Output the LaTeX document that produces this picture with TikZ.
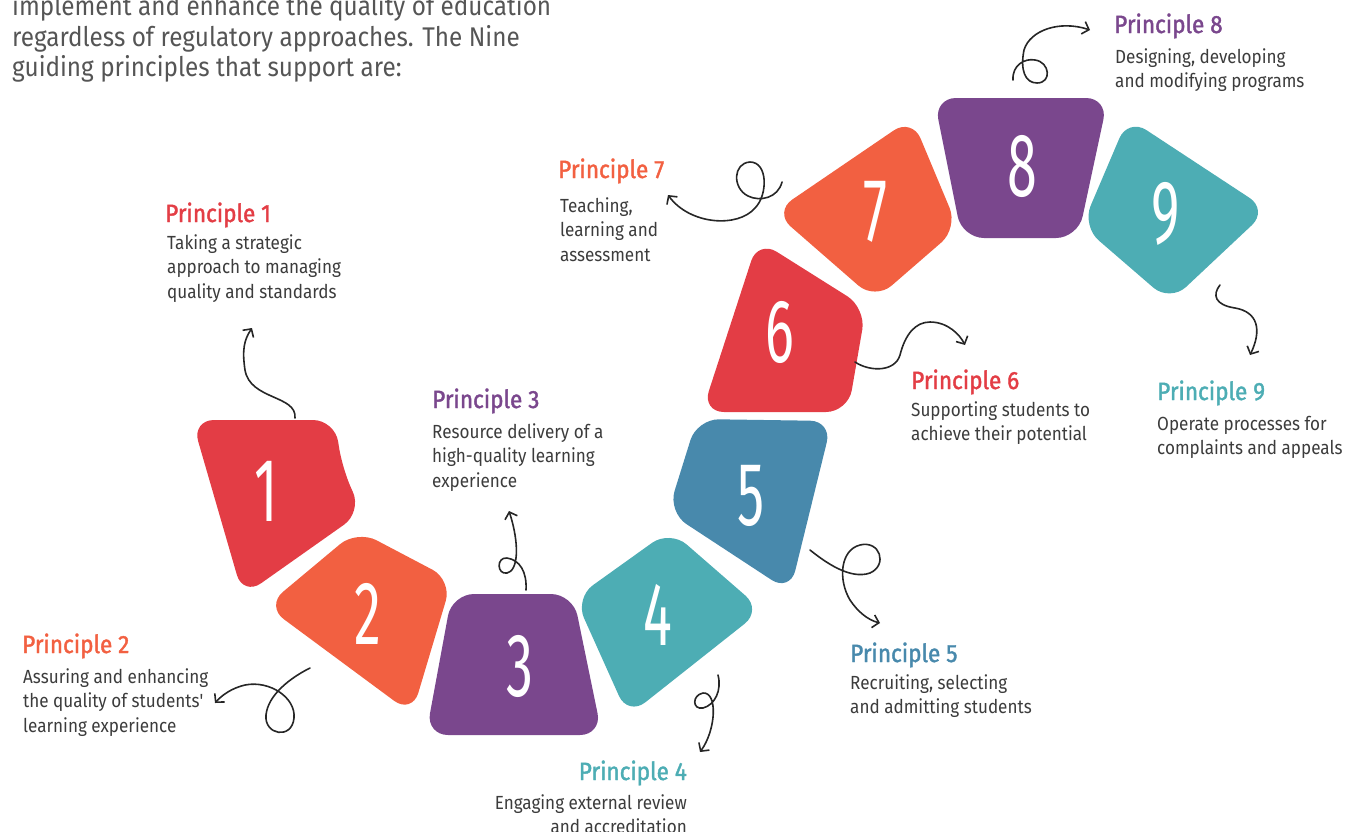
\documentclass[tikz,border=0pt]{standalone}
\usepackage{fontspec}
\setmainfont{Fira Sans}[FakeStretch=0.9]
\newfontfamily\ttlfont{Fira Sans}[FakeStretch=0.9, FakeBold=1.6]
\newfontfamily\numfont{Fira Sans}[FakeStretch=0.6]
\usetikzlibrary{arrows.meta}
\definecolor{cRed}{HTML}{E33D45}
\definecolor{cOrange}{HTML}{F26041}
\definecolor{cPurple}{HTML}{7A478D}
\definecolor{cTeal}{HTML}{4DADB4}
\definecolor{cBlue}{HTML}{4889AC}
\definecolor{cText}{HTML}{3C3C3C}
\definecolor{cIntro}{HTML}{555555}
\begin{document}
\begin{tikzpicture}[x=1pt,y=-1pt,
  blob/.style={rounded corners=22pt},
  num/.style={text=white, font=\numfont\fontsize{90}{90}\selectfont, inner sep=0},
  ttl/.style={anchor=base west, inner sep=0, font=\ttlfont\fontsize{25}{25}\selectfont},
  body/.style={anchor=north west, inner sep=0, align=left, text=cText, font=\fontsize{19}{24.5}\selectfont},
  intro/.style={anchor=base west, inner sep=0, text=cIntro, font=\fontsize{27}{30}\selectfont},
  squig/.style={draw=black!85, line width=1.6pt, line cap=round, -{Straight Barb[length=6pt,width=13pt]}}]
\useasboundingbox (0,0) rectangle (1348,831);
\clip (0,0) rectangle (1348,831);

% intro text
\node[intro] (i1) at (12,15) {implement and enhance the quality of education};
\node[intro] (i2) at (12,46) {regardless of regulatory approaches. The Nine};
\node[intro] (i3) at (12,76) {guiding principles that support are:};

% shapes
\fill[cRed, blob] (192,420) -- (335,420) -- (342,468) -- (362,512) -- (243,596) -- cycle;
\fill[cOrange, blob] (357,530) -- (452,580) -- (412,714) -- (266,606) -- cycle;
\fill[cPurple, blob] (452,594) -- (573,594) -- (602,735) -- (426,735) -- cycle;
\fill[cTeal, blob] (670,530) -- (762,610) -- (628,716) -- (575,598) -- cycle;
\fill[cBlue, blob] (697,419) -- (832,421) -- (790,592) -- (668,512) -- cycle;
\fill[cRed, blob] (758,240) -- (866,308) -- (848,412) -- (702,412) -- cycle;
\fill[cOrange, blob] (912,118) -- (958,228) -- (875,300) -- (774,212) -- cycle;
\fill[cPurple, blob] (934,98) -- (1108,98) -- (1078,238) -- (962,238) -- cycle;
\fill[cTeal, blob] (1128,118) -- (1268,210) -- (1170,302) -- (1082,226) -- cycle;

% numbers
\node[num] (n1) at (266,491) {1};
\node[num] (n2) at (368,614) {2};
\node[num] (n3) at (520,666) {3};
\node[num] (n4) at (658,615) {4};
\node[num] (n5) at (751,496) {5};
\node[num] (n6) at (780,332) {6};
\node[num] (n7) at (875,212) {7};
\node[num] (n8) at (1022,166) {8};
\node[num] (n9) at (1166,214) {9};

% labels
\node[ttl, text=cRed] (t1) at (165,222) {Principle 1};
\node[body] (b1) at (167,234) {Taking a strategic\\approach to managing\\quality and standards};
\node[ttl, text=cOrange] (t2) at (22,653) {Principle 2};
\node[body] (b2) at (23,668) {Assuring and enhancing\\the quality of students\textquotesingle\\learning experience};
\node[ttl, text=cPurple] (t3) at (432,408) {Principle 3};
\node[body] (b3) at (432,423) {Resource delivery of a\\high-quality learning\\experience};
\node[ttl, text=cTeal, anchor=base east] (t4) at (687,780) {Principle 4};
\node[body, anchor=north east, align=right] (b4) at (687,794) {Engaging external review\\and accreditation};
\node[ttl, text=cBlue] (t5) at (850,662) {Principle 5};
\node[body] (b5) at (850,674) {Recruiting, selecting\\and admitting students};
\node[ttl, text=cRed] (t6) at (911,389) {Principle 6};
\node[body] (b6) at (911,401) {Supporting students to\\achieve their potential};
\node[ttl, text=cOrange] (t7) at (558,178) {Principle 7};
\node[body] (b7) at (560,197) {Teaching,\\learning and\\assessment};
\node[ttl, text=cPurple] (t8) at (1114,33) {Principle 8};
\node[body] (b8) at (1115,48) {Designing, developing\\and modifying programs};
\node[ttl, text=cTeal] (t9) at (1157,400) {Principle 9};
\node[body] (b9) at (1157,416) {Operate processes for\\complaints and appeals};

% squiggle arrows
\coordinate (a1s) at (295,418); \coordinate (a1e) at (252,328);
\coordinate (a2s) at (310,668); \coordinate (a2e) at (215,703);
\coordinate (a3s) at (526,590); \coordinate (a3e) at (509,511);
\coordinate (a4s) at (718,675); \coordinate (a4e) at (700,752);
\coordinate (a5s) at (810,550); \coordinate (a5e) at (880,623);
\coordinate (a6s) at (855,362); \coordinate (a6e) at (965,345);
\coordinate (a7s) at (782,182); \coordinate (a7e) at (668,195);
\coordinate (a8s) at (1013,80); \coordinate (a8e) at (1090,30);
\coordinate (a9s) at (1220,285); \coordinate (a9e) at (1250,355);

\draw[squig] (a1s) .. controls (297,395) and (250,400) .. (245,370) .. controls (242,350) and (244,340) .. (a1e);
\draw[squig] (a2s) .. controls (290,678) and (268,695) .. (266,715) .. controls (264,735) and (292,740) .. (294,718) .. controls (296,698) and (270,680) .. (245,685) .. controls (232,688) and (222,695) .. (a2e);
\draw[squig] (a3s) .. controls (527,572) and (520,560) .. (507,558) .. controls (496,557) and (497,575) .. (507,573) .. controls (518,571) and (520,545) .. (a3e);
\draw[squig] (a4s) .. controls (722,690) and (715,705) .. (703,708) .. controls (692,710) and (692,695) .. (703,693) .. controls (718,692) and (716,730) .. (a4e);
\draw[squig] (a5s) .. controls (825,562) and (850,580) .. (870,573) .. controls (888,565) and (880,540) .. (860,545) .. controls (840,550) and (838,580) .. (850,600) .. controls (858,612) and (868,620) .. (a5e);
\draw[squig] (a6s) .. controls (870,372) and (895,372) .. (900,355) .. controls (905,335) and (915,322) .. (930,322) .. controls (948,322) and (960,335) .. (a6e);
\draw[squig] (a7s) .. controls (778,198) and (760,202) .. (748,196) .. controls (732,188) and (733,163) .. (750,162) .. controls (768,162) and (768,195) .. (755,208) .. controls (738,228) and (690,225) .. (a7e);
\draw[squig] (a8s) .. controls (1012,65) and (1025,58) .. (1035,60) .. controls (1050,62) and (1052,83) .. (1037,83) .. controls (1025,83) and (1020,70) .. (1024,50) .. controls (1030,30) and (1060,20) .. (a8e);
\draw[squig] (a9s) .. controls (1212,295) and (1215,305) .. (1235,308) .. controls (1258,312) and (1262,330) .. (a9e);
\end{tikzpicture}
\end{document}
